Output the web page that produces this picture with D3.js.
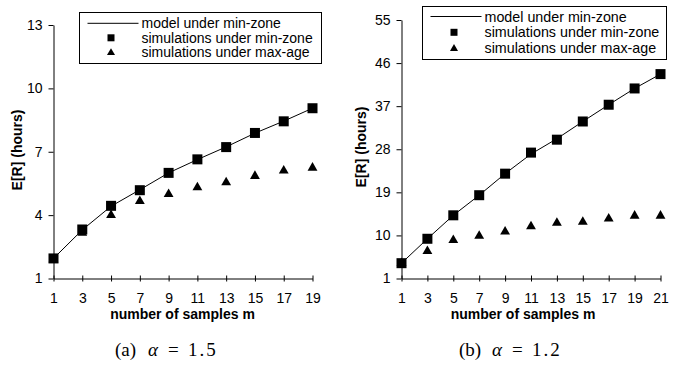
<!DOCTYPE html>
<html>
<head>
    <script src="https://d3js.org/d3.v7.min.js"></script>
    <style>
        body { margin: 0; background: #fff; }
        text { font-family: "Liberation Sans", Arial, sans-serif; }
    </style>
</head>
<body>
    <svg id="chart" width="689" height="367"></svg>

    <script>
        // panel (a), alpha = 1.5
        var samplesA = [1, 3, 5, 7, 9, 11, 13, 15, 17, 19];
        var modelA = [1.95, 3.3, 4.42, 5.2, 6.0, 6.63, 7.23, 7.88, 8.45, 9.06];
        var minZoneA = [1.95, 3.32, 4.44, 5.18, 6.0, 6.64, 7.22, 7.89, 8.44, 9.06];
        var maxAgeA = [1.9, 3.16, 4.0, 4.66, 4.99, 5.31, 5.55, 5.85, 6.1, 6.24];
        var yTicksA = [1, 4, 7, 10, 13];

        // panel (b), alpha = 1.2
        var samplesB = [1, 3, 5, 7, 9, 11, 13, 15, 17, 19, 21];
        var modelB = [4.2, 9.3, 14.2, 18.4, 22.9, 27.0, 30.2, 33.8, 37.3, 40.7, 43.7];
        var minZoneB = [4.2, 9.3, 14.2, 18.4, 22.9, 27.3, 30.0, 33.8, 37.3, 40.7, 43.7];
        var maxAgeB = [4.2, 6.7, 9.0, 9.9, 10.8, 11.9, 12.6, 12.8, 13.5, 14.1, 14.1];
        var yTicksB = [1, 10, 19, 28, 37, 46, 55];

        var legendLabels = ["model under min-zone", "simulations under min-zone", "simulations under max-age"];

        var svg = d3.select("#chart");

        function panel(cfg) {
            var g = svg.append("g");
            var x = d3.scaleLinear().domain([cfg.samples[0], cfg.samples[cfg.samples.length - 1]]).range([cfg.x0, cfg.x1]);
            var y = d3.scaleLinear().domain([cfg.yTicks[0], cfg.yTicks[cfg.yTicks.length - 1]]).range([cfg.y0, cfg.y1]);

            // axes
            var ya = g.append("g").attr("transform", `translate(${cfg.x0},0)`)
                .call(d3.axisLeft(y).tickValues(cfg.yTicks).tickSize(5).tickSizeOuter(0).tickPadding(6));
            var xa = g.append("g").attr("transform", `translate(0,${cfg.y0})`)
                .call(d3.axisBottom(x).tickValues(cfg.samples).tickSize(3).tickSizeOuter(0).tickPadding(12));
            xa.selectAll(".tick line").attr("y1", -3);
            [ya, xa].forEach(a => {
                a.select(".domain").attr("stroke", "#000");
                a.selectAll(".tick line").attr("stroke", "#000");
                a.selectAll("text").style("font-size", "14px").attr("fill", "#000")
                    .style("font-family", "'Liberation Sans', Arial, sans-serif");
            });

            // model line
            var line = d3.line().x((d, i) => x(cfg.samples[i])).y(d => y(d));
            g.append("path").datum(cfg.model).attr("d", line).attr("fill", "none").attr("stroke", "#000").attr("stroke-width", 1);

            // max-age triangles
            var tri = d3.symbol().type(d3.symbolTriangle).size(42);
            g.selectAll(".tri").data(cfg.maxAge).enter().append("path")
                .attr("d", tri)
                .attr("transform", (d, i) => `translate(${x(cfg.samples[i])},${y(d)})`)
                .attr("fill", "#000");

            // min-zone squares
            g.selectAll(".sq").data(cfg.minZone).enter().append("rect")
                .attr("x", (d, i) => x(cfg.samples[i]) - 5)
                .attr("y", d => y(d) - 5)
                .attr("width", 10).attr("height", 10)
                .attr("fill", "#000");

            // axis titles
            g.append("text").attr("text-anchor", "middle")
                .attr("transform", `translate(${cfg.ylabX},${cfg.ylabY})rotate(-90)`)
                .style("font-size", "14px").style("font-weight", "bold").text("E[R] (hours)");
            g.append("text").attr("text-anchor", "middle")
                .attr("x", cfg.xlabX).attr("y", cfg.y0 + 40)
                .style("font-size", "14px").style("font-weight", "bold").text("number of samples m");

            // caption
            var cap = g.append("text").attr("y", 356)
                .style("font-family", "'Liberation Serif', 'DejaVu Serif', serif").style("font-size", "19px");
            cap.append("tspan").attr("x", cfg.capX - 52).text(cfg.capTag);
            cap.append("tspan").attr("x", cfg.capX - 19).style("font-style", "italic").text("\u03b1");
            cap.append("tspan").attr("x", cfg.capX + 1).text("=");
            cap.append("tspan").attr("x", cfg.capX + 21).style("letter-spacing", "2px").text(cfg.capVal);

            // legend
            var lg = g.append("g").attr("transform", `translate(${cfg.lx},${cfg.ly})`);
            lg.append("rect").attr("width", cfg.lw).attr("height", cfg.lh)
                .attr("fill", "#fff").attr("stroke", "#000").attr("stroke-width", 1);
            var rows = lg.selectAll(".row").data(legendLabels).enter().append("g")
                .attr("transform", (d, i) => `translate(0,${cfg.lr0 + i * cfg.lstep})`);
            rows.filter((d, i) => i === 0).append("line")
                .attr("x1", 8).attr("x2", 59).attr("stroke", "#000");
            rows.filter((d, i) => i === 1).append("rect")
                .attr("x", 28).attr("y", -3.5).attr("width", 7).attr("height", 7).attr("fill", "#000");
            rows.filter((d, i) => i === 2).append("path")
                .attr("d", d3.symbol().type(d3.symbolTriangle).size(28))
                .attr("transform", "translate(31.5,0.5)").attr("fill", "#000");
            rows.append("text").attr("x", 62).attr("dy", "0.35em")
                .style("font-size", cfg.lfont).text(d => d);
        }

        panel({
            samples: samplesA, model: modelA, minZone: minZoneA, maxAge: maxAgeA, yTicks: yTicksA,
            x0: 53.5, x1: 312.5, y0: 278.5, y1: 25, ylabX: 22, ylabY: 150, xlabX: 182.5,
            lx: 79.5, ly: 12.5, lw: 242, lh: 51, lr0: 10.8, lstep: 14.5, lfont: "14px",
            capX: 167, capTag: "(a)", capVal: "1.5"
        });
        panel({
            samples: samplesB, model: modelB, minZone: minZoneB, maxAge: maxAgeB, yTicks: yTicksB,
            x0: 401.5, x1: 660.5, y0: 278.5, y1: 20, ylabX: 366, ylabY: 147, xlabX: 523,
            lx: 422.5, ly: 6.5, lw: 244, lh: 53, lr0: 10, lstep: 15.8, lfont: "14.3px",
            capX: 511, capTag: "(b)", capVal: "1.2"
        });
    </script>
</body>
</html>
